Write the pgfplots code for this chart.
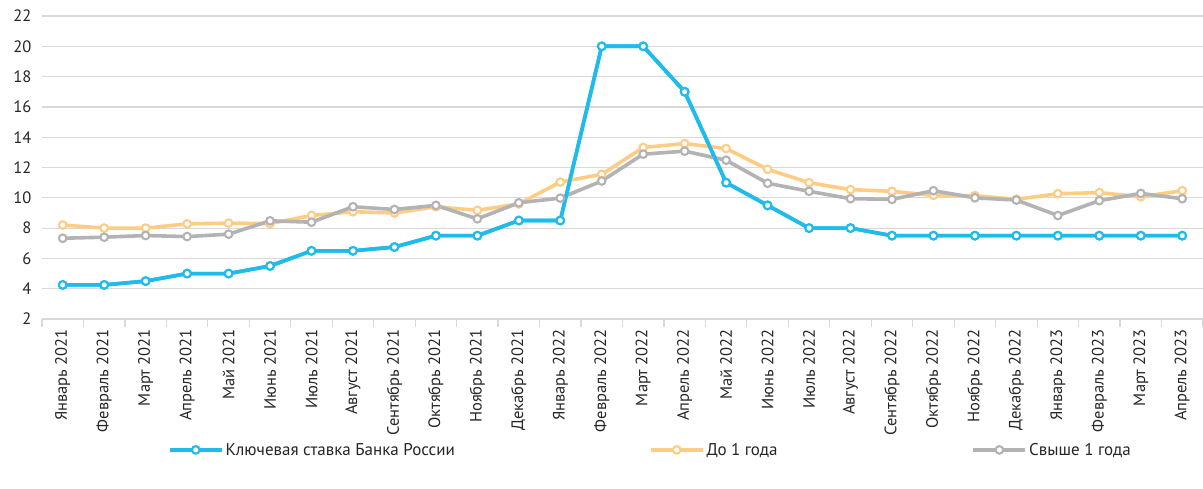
\documentclass[border=0pt]{standalone}
\usepackage{pgfplots}
\pgfplotsset{compat=1.18}
\usepackage{fontspec}
\setmainfont{PT Sans}
\definecolor{cblue}{HTML}{1FBBEA}
\definecolor{corange}{HTML}{FFCC85}
\definecolor{cgrey}{HTML}{B3B3B3}
\definecolor{cgrid}{HTML}{D9D9D9}
\definecolor{ctext}{HTML}{262626}
\begin{document}
\begin{tikzpicture}
\path[use as bounding box] (-42bp,-170bp) rectangle (1161bp,319bp);
\begin{axis}[
 at={(0,0)}, anchor=south west, scale only axis,
 width=1161bp, height=303bp,
 xmin=-0.5, xmax=27.5, ymin=2, ymax=22,
 ytick={2,4,...,22},
 xtick={0,...,27},
 xticklabels={Январь 2021, Февраль 2021, Март 2021, Апрель 2021, Май 2021, Июнь 2021, Июль 2021, Август 2021, Сентябрь 2021, Октябрь 2021, Ноябрь 2021, Декабрь 2021, Январь 2022, Февраль 2022, Март 2022, Апрель 2022, Май 2022, Июнь 2022, Июль 2022, Август 2022, Сентябрь 2022, Октябрь 2022, Ноябрь 2022, Декабрь 2022, Январь 2023, Февраль 2023, Март 2023, Апрель 2023},
 minor xtick={-0.5,0.5,...,27.5},
 major x tick style={draw=none},
 minor x tick style={cgrid, line width=1.2bp},
 ytick style={draw=none},
 minor tick length=8bp,
 major tick length=8bp,
 tick align=outside,
 axis x line*=bottom, axis y line*=left,
 y axis line style={draw=none},
 x axis line style={cgrid, line width=1.2bp},
 ymajorgrids, grid style={cgrid, line width=1.2bp},
 /pgf/number format/assume math mode=true,
 ticklabel style={font=\fontsize{16.5bp}{19bp}\selectfont, text=ctext},
 yticklabel style={xshift=1bp},
 xticklabel style={rotate=90, anchor=east, inner sep=2bp},
 legend style={draw=none, at={(0.524,-0.432)}, anchor=center,
   font=\fontsize{17bp}{20bp}\selectfont, text=ctext,
   /tikz/every even column/.append style={column sep=192bp}},
 legend columns=3,
 legend cell align=left,
 legend image code/.code={\draw[mark repeat=2,mark phase=2] plot coordinates {(0bp,0bp) (26bp,0bp) (52bp,0bp)};},
 every axis plot/.append style={line width=3.6bp, mark=*, mark size=3.8bp},
 clip=false,
]
\addplot[cblue, mark options={fill=white, draw=cblue, line width=2.1bp}] coordinates {
(0,4.25)(1,4.25)(2,4.5)(3,5)(4,5)(5,5.5)(6,6.5)(7,6.5)(8,6.75)(9,7.5)(10,7.5)(11,8.5)(12,8.5)(13,20)(14,20)(15,17)(16,11)(17,9.5)(18,8)(19,8)(20,7.5)(21,7.5)(22,7.5)(23,7.5)(24,7.5)(25,7.5)(26,7.5)(27,7.5)};
\addlegendentry{Ключевая ставка Банка России}
\addplot[corange, mark options={fill=white, draw=corange, line width=2.1bp}] coordinates {
(0,8.2)(1,8.0)(2,8.0)(3,8.28)(4,8.33)(5,8.3)(6,8.83)(7,9.08)(8,9.0)(9,9.41)(10,9.17)(11,9.6)(12,11.04)(13,11.55)(14,13.32)(15,13.58)(16,13.25)(17,11.88)(18,11.0)(19,10.54)(20,10.43)(21,10.16)(22,10.14)(23,9.9)(24,10.27)(25,10.34)(26,10.07)(27,10.47)};
\addlegendentry{До 1 года}
\addplot[cgrey, mark options={fill=white, draw=cgrey, line width=2.1bp}] coordinates {
(0,7.33)(1,7.4)(2,7.51)(3,7.44)(4,7.6)(5,8.48)(6,8.39)(7,9.41)(8,9.23)(9,9.5)(10,8.61)(11,9.67)(12,9.98)(13,11.11)(14,12.88)(15,13.08)(16,12.48)(17,10.96)(18,10.43)(19,9.94)(20,9.9)(21,10.47)(22,10.0)(23,9.85)(24,8.83)(25,9.81)(26,10.29)(27,9.94)};
\addlegendentry{Свыше 1 года}
\addplot[cblue, forget plot, mark options={fill=white, draw=cblue, line width=2.1bp}] coordinates {
(0,4.25)(1,4.25)(2,4.5)(3,5)(4,5)(5,5.5)(6,6.5)(7,6.5)(8,6.75)(9,7.5)(10,7.5)(11,8.5)(12,8.5)(13,20)(14,20)(15,17)(16,11)(17,9.5)(18,8)(19,8)(20,7.5)(21,7.5)(22,7.5)(23,7.5)(24,7.5)(25,7.5)(26,7.5)(27,7.5)};
\end{axis}
\end{tikzpicture}
\end{document}
